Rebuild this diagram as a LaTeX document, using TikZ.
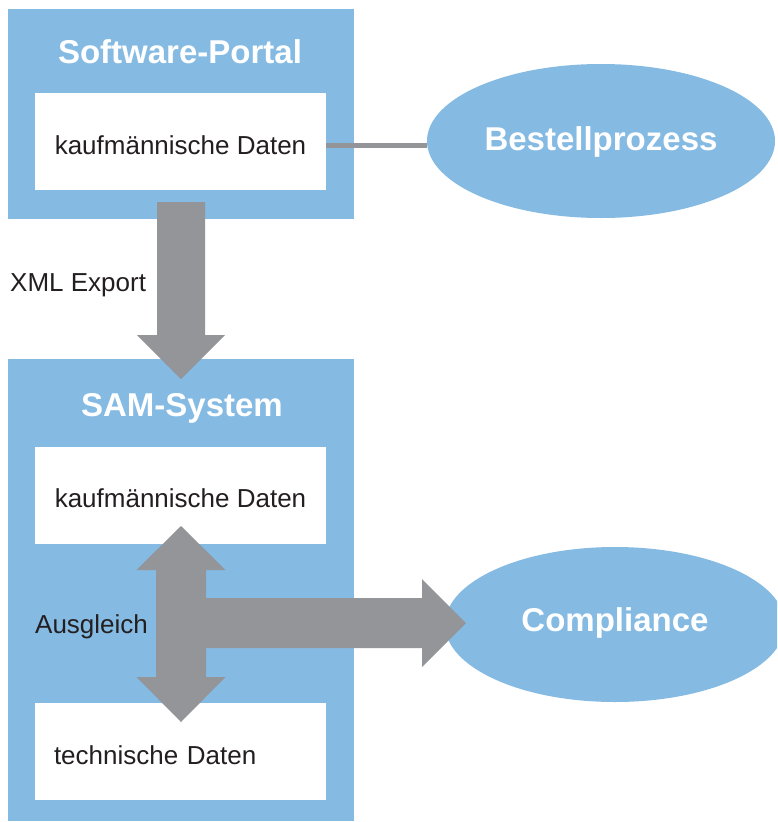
\documentclass[tikz,border=0pt]{standalone}
\usepackage{fontspec}
\setmainfont{Liberation Sans}
\usetikzlibrary{shapes.geometric}
\definecolor{samblue}{RGB}{133,186,227}
\definecolor{arrgray}{RGB}{147,149,153}
\definecolor{txtdark}{RGB}{35,31,32}
\begin{document}
\begin{tikzpicture}[x=1pt,y=-1pt,
  container/.style={rectangle, fill=samblue, draw=none, minimum width=346pt, inner sep=0pt},
  whitebox/.style={rectangle, fill=white, draw=none, minimum width=291pt, minimum height=97pt,
    inner sep=0pt, text height=61pt, text depth=36pt, text=txtdark, font=\fontsize{26}{30}\selectfont},
  titletext/.style={anchor=base, inner sep=0pt, text=white, font=\fontsize{33}{38}\selectfont\bfseries},
  oval/.style={ellipse, fill=samblue, draw=none, inner sep=0pt, text=white,
    font=\fontsize{33}{38}\selectfont\bfseries},
  plainlabel/.style={anchor=base west, inner sep=0pt, text=txtdark, font=\fontsize{26}{30}\selectfont},
  bigarrow/.style={fill=arrgray, draw=none},
  thinlink/.style={draw=arrgray, line width=5pt}
]
\clip (0,0) rectangle (777,822);
\fill[white] (0,0) rectangle (777,822);

% containers
\node[container, minimum height=210pt] (portal) at (181,114) {};
\node[container, minimum height=462pt] (sam) at (181,590) {};

% titles
\node[titletext] (portaltitle) at (180,63.3) {Software-Portal};
\node[titletext] (samtitle) at (182,416.7) {SAM-System};

% white boxes
\node[whitebox] (kd1) at (180.5,141.5) {kaufmännische Daten};
\node[whitebox] (kd2) at (180.5,495) {kaufmännische Daten};
\node[whitebox, text width=253pt, inner xsep=19pt, align=left] (td) at (180.5,751.5) {technische Daten};

% ellipses
\node[oval, minimum width=348pt, minimum height=154pt, text height=24pt, text depth=4.6pt] (bestell) at (601,141) {Bestellprozess};
\node[oval, minimum width=340pt, minimum height=155pt, text height=24pt, text depth=11pt] (compl) at (615,624.5) {Compliance};

% thin link
\draw[thinlink] ([yshift=-3.5pt]kd1.east) -- ([yshift=-3.5pt]kd1.east -| bestell.west);

% labels
\node[plainlabel] (xml) at (10,291) {XML Export};
\node[plainlabel] (ausgl) at (35,633.3) {Ausgleich};

% export arrow
\coordinate (expstart) at (181,202);
\coordinate (exptip) at (181,379);
\fill[bigarrow] (expstart) ++(-24,0) -- ++(48,0) -- (205,335) -- (225,335) -- (exptip)
  -- (137,335) -- (157,335) -- cycle;

% Ausgleich double arrow + compliance arrow
\coordinate (auptip) at (181,526);
\coordinate (adowntip) at (181,722);
\coordinate (compltip) at (466,623);
\fill[bigarrow] (auptip) -- (225.5,570) -- (206,570) -- (206,598) -- (422,598) -- (422,579)
  -- (compltip) -- (422,667) -- (422,648) -- (206,648) -- (206,677) -- (225.5,677)
  -- (adowntip) -- (136.5,677) -- (156,677) -- (156,570) -- (136.5,570) -- cycle;
\end{tikzpicture}
\end{document}
